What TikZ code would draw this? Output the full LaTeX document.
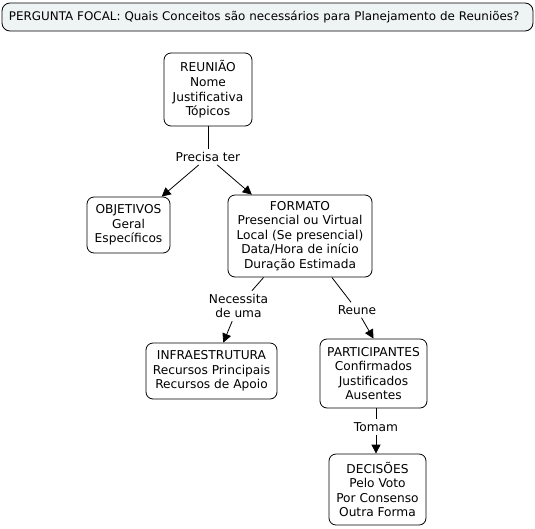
\documentclass[tikz,border=0pt]{standalone}
\usepackage{fontspec}
\setmainfont{DejaVu Sans}
\usetikzlibrary{arrows.meta,calc}
\definecolor{focalfill}{RGB}{238,243,243}
\begin{document}
\begin{tikzpicture}[x=1pt,y=-1pt,
  every node/.style={font=\fontsize{12.2}{14.6}\selectfont},
  concept/.style={draw=black,line width=0.8pt,rounded corners=7pt,align=center,inner sep=0pt},
  linklabel/.style={align=center,inner sep=3pt},
  conn/.style={line width=0.8pt},
  arr/.style={line width=0.8pt,-{Triangle[length=9pt,width=9pt]}}]
\useasboundingbox (0,0) rectangle (535,528);
\node[concept,fill=focalfill,rounded corners=8pt,text width=517pt,align=left,inner xsep=7pt,minimum height=28pt,font=\fontsize{11.9}{14.6}\selectfont] (focal) at (267.5,17) {PERGUNTA FOCAL: Quais Conceitos são necessários para Planejamento de Reuniões?};
\node[concept,minimum width=88pt,minimum height=73pt] (reun) at (208,89.5) {REUNIÃO\\Nome\\Justificativa\\Tópicos};
\node[concept,minimum width=83pt,minimum height=56pt] (obj) at (128.5,225) {OBJETIVOS\\Geral\\Específicos};
\node[concept,minimum width=144pt,minimum height=82pt] (form) at (300,236) {FORMATO\\Presencial ou Virtual\\Local (Se presencial)\\Data/Hora de início\\Duração Estimada};
\node[concept,minimum width=131pt,minimum height=56pt] (infra) at (211.5,371) {INFRAESTRUTURA\\Recursos Principais\\Recursos de Apoio};
\node[concept,minimum width=107pt,minimum height=69pt] (part) at (373.5,373.5) {PARTICIPANTES\\Confirmados\\Justificados\\Ausentes};
\node[concept,minimum width=97pt,minimum height=71pt] (dec) at (377.5,489.5) {DECISÕES\\Pelo Voto\\Por Consenso\\Outra Forma};
\node[linklabel] (prec) at (208,157) {Precisa ter};
\node[linklabel] (nec) at (238.5,306) {Necessita\\de uma};
\node[linklabel] (reune) at (357,310) {Reune};
\node[linklabel] (tom) at (376,427) {Tomam};
\draw[conn] (reun) -- (prec);
\draw[arr] (prec) -- (obj);
\draw[arr] (prec) -- (form);
\draw[conn] (form) -- (nec);
\draw[arr] (nec) -- (infra);
\draw[conn] (form) -- (reune);
\draw[arr] (reune) -- (part.north);
\draw[conn] (part.south -| tom) -- (tom);
\draw[arr] (tom) -- (dec.north -| tom);
\end{tikzpicture}
\end{document}
